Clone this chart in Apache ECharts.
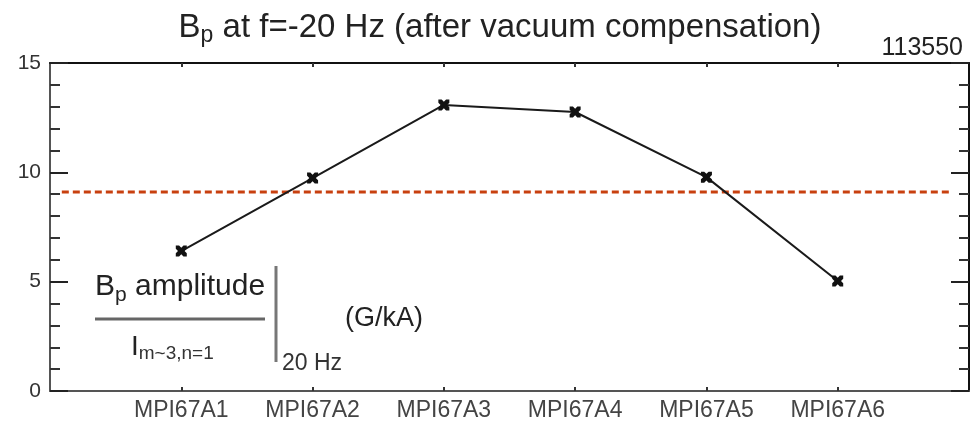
<!DOCTYPE html>
<html><head><meta charset="utf-8">
<script src="https://cdn.jsdelivr.net/npm/echarts@6/dist/echarts.min.js"></script>
<style>html,body{margin:0;padding:0;background:#fff}#c{width:978px;height:425px}</style>
</head><body><div id="c"></div>
<script>
var categories = ['MPI67A1','MPI67A2','MPI67A3','MPI67A4','MPI67A5','MPI67A6'];
var amplitude = [6.40, 9.74, 13.08, 12.76, 9.78, 5.03];
var meanLevel = 9.10;
var meanSpan = [0.09, 6.85];
var yTicks = [0, 5, 10, 15];

var font = 'Liberation Sans, Arial, Helvetica, sans-serif';
var chart = echarts.init(document.getElementById('c'), null, {renderer:'canvas'});
var xPts = categories.map(function(c,i){return [i+1, amplitude[i]];});
function xAxisDef(pos, label){
  return {
    type:'value', min:0, max:7, interval:1, position:pos,
    axisLine:{show:true, onZero:false, lineStyle:{color:pos==='top'?'#111':'#555', width:2}},
    axisTick:{show:true, inside:true, length:4, lineStyle:{color:'#333', width:2},
      customValues:[1,2,3,4,5,6]},
    splitLine:{show:false},
    axisLabel:label ? {show:true, margin:8, fontFamily:font, fontSize:23, color:'#444',
        customValues:[1,2,3,4,5,6],
        formatter:function(v){return categories[Math.round(v)-1] || '';}} : {show:false}
  };
}
function yAxisDef(pos, label){
  return {
    type:'value', min:0, max:15, interval:5, position:pos,
    axisLine:{show:true, onZero:false, lineStyle:{color:pos==='right'?'#111':'#555', width:2}},
    axisTick:{show:true, inside:true, length:18, lineStyle:{color:'#222', width:2}},
    minorTick:{show:true, splitNumber:5, length:10, lineStyle:{color:'#333', width:2}},
    splitLine:{show:false},
    axisLabel:label ? {show:true, margin:9, fontFamily:font, fontSize:21, color:'#333',
        customValues:yTicks} : {show:false}
  };
}
var marker = 'path://M0,0L3,0L5,2L7,0L10,0L10,3L8,5L10,7L10,10L7,10L5,8L3,10L0,10L0,7L2,5L0,3Z';
chart.setOption({
  animation:false,
  backgroundColor:'#fff',
  title:[{
    text:'{m|B}{s|p}{m| at f=-20 Hz (after vacuum compensation)}',
    left:495, textAlign:'center', top:3,
    textStyle:{rich:{
      m:{fontFamily:font, fontSize:33, fontWeight:'normal', color:'#222'},
      s:{fontFamily:font, fontSize:23, fontWeight:'normal', color:'#222', padding:[16,0,0,0]}
    }}
  },{
    text:'113550', right:10, top:31,
    textStyle:{fontFamily:font, fontSize:25, fontWeight:'normal', color:'#222'}
  }],
  grid:{left:50, right:9, top:63, bottom:34},
  xAxis:[xAxisDef('bottom', true), xAxisDef('top', false)],
  yAxis:[yAxisDef('left', true), yAxisDef('right', false)],
  series:[{
    type:'line', data:xPts, xAxisIndex:0, yAxisIndex:0,
    lineStyle:{color:'#1a1a1a', width:2},
    symbol:marker, symbolSize:11, itemStyle:{color:'#111'},
    z:3
  },{
    type:'line', data:[[meanSpan[0], meanLevel],[meanSpan[1], meanLevel]],
    xAxisIndex:0, yAxisIndex:0,
    symbol:'none',
    lineStyle:{color:'#c8400f', width:3, type:[7,4]},
    z:2
  }],
  graphic:[
    {type:'text', left:95, top:272, style:{
      text:'{m|B}{s|p}{m| amplitude}',
      rich:{m:{fontFamily:font, fontSize:30, fill:'#222'}, s:{fontFamily:font, fontSize:21, fill:'#222', padding:[16,0,0,0]}}
    }},
    {type:'line', shape:{x1:95, y1:319, x2:265, y2:319}, style:{stroke:'#666', lineWidth:3}},
    {type:'text', left:131, top:333, style:{
      text:'{m|I}{s|m~3,n=1}',
      rich:{m:{fontFamily:font, fontSize:28, fill:'#222'}, s:{fontFamily:font, fontSize:19, fill:'#333', padding:[14,0,0,0]}}
    }},
    {type:'line', shape:{x1:276, y1:266, x2:276, y2:362}, style:{stroke:'#777', lineWidth:3}},
    {type:'text', left:282, top:352, style:{text:'20 Hz', font:'23px '+font, fill:'#333'}},
    {type:'text', left:345, top:305, style:{text:'(G/kA)', font:'27px '+font, fill:'#222'}}
  ]
});
</script></body></html>
